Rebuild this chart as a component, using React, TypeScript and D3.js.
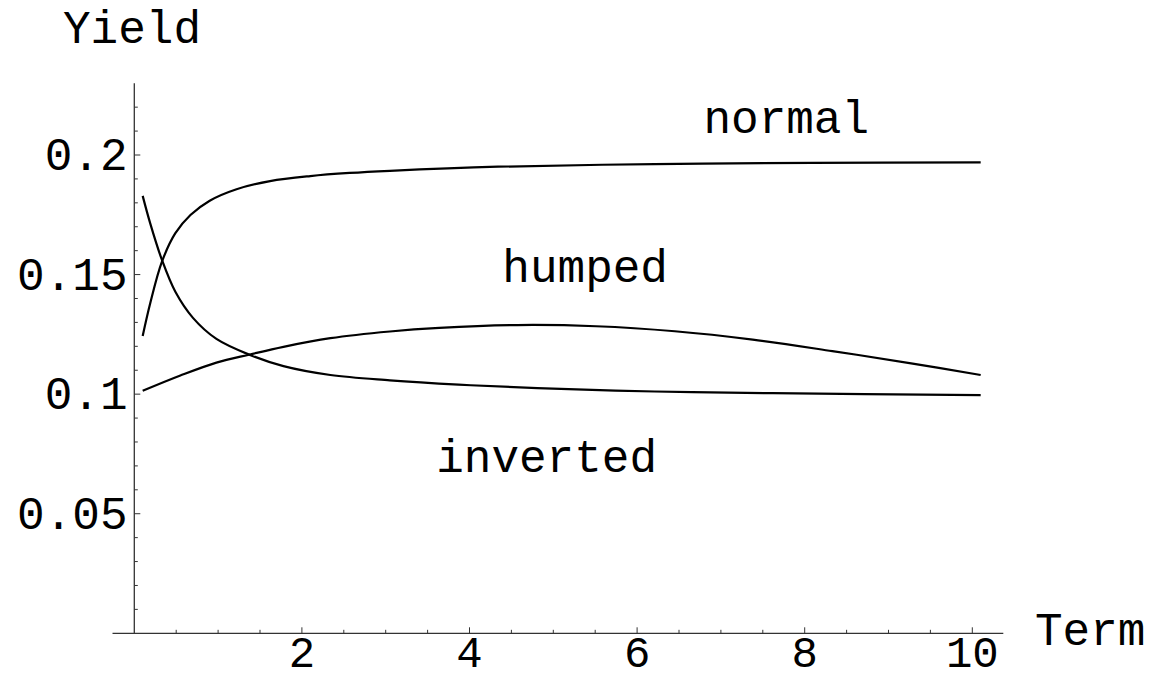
import React from "react";
import * as d3 from "d3";

// Yield curves: term (years) against yield
const normalTerms = [0.1, 0.19, 0.33, 0.49, 0.67, 0.9, 1.22, 1.62, 2.1, 2.57, 3.05, 4.34, 6.21, 8.09, 10.1];
const normalYields = [0.1243, 0.138, 0.1554, 0.1673, 0.1749, 0.1809, 0.1857, 0.1891, 0.1912, 0.1925, 0.1934, 0.1951, 0.1962, 0.1967, 0.1969];

const invertedTerms = [0.1, 0.19, 0.33, 0.49, 0.7, 0.98, 1.38, 1.78, 2.34, 3.05, 3.87, 4.81, 6.21, 7.62, 10.1];
const invertedYields = [0.1829, 0.1714, 0.1561, 0.1428, 0.1319, 0.1231, 0.1164, 0.1117, 0.108, 0.1058, 0.104, 0.1025, 0.1011, 0.1004, 0.0996];

const humpedTerms = [0.1, 0.55, 0.98, 1.38, 1.78, 2.34, 3.05, 3.64, 4.57, 5.51, 6.45, 7.38, 8.33, 9.27, 10.1];
const humpedYields = [0.1014, 0.1078, 0.1132, 0.1166, 0.1198, 0.1234, 0.1262, 0.1277, 0.1289, 0.1284, 0.1263, 0.1228, 0.118, 0.1129, 0.108];

const xMajorTicks = [2, 4, 6, 8, 10];
const yMajorTicks = [0.05, 0.1, 0.15, 0.2];
const yTickLabels = ["0.05", "0.1", "0.15", "0.2"];

const curveNames = ["normal", "humped", "inverted"];
const curveLabelTerms = [7.78, 5.38, 4.92];
const curveLabelYields = [0.2092, 0.1469, 0.0673];

const WIDTH = 1159;
const HEIGHT = 681;
const FONT = "'Liberation Mono', 'Courier New', Courier, monospace";

export default function App() {
  const x = d3.scaleLinear().domain([0, 10]).range([134.3, 972.3]);
  const y = d3.scaleLinear().domain([0, 0.2]).range([633.3, 155]);

  const line = d3
    .line<[number, number]>()
    .x((d) => x(d[0]))
    .y((d) => y(d[1]))
    .curve(d3.curveCatmullRom.alpha(0.5));

  const series = [
    normalTerms.map((t, i) => [t, normalYields[i]] as [number, number]),
    humpedTerms.map((t, i) => [t, humpedYields[i]] as [number, number]),
    invertedTerms.map((t, i) => [t, invertedYields[i]] as [number, number]),
  ];

  const xMinor = d3.range(0.5, 10.01, 0.5).filter((v) => !xMajorTicks.some((m) => Math.abs(m - v) < 1e-6));
  const yMinor = d3.range(0.01, 0.2251, 0.01).filter((v) => !yMajorTicks.some((m) => Math.abs(m - v) < 1e-6));

  const axisColor = "#333";

  return (
    <svg
      width={WIDTH}
      height={HEIGHT}
      style={{ position: "absolute", left: 0, top: 0, background: "#fff" }}
      fontFamily={FONT}
    >
      {/* axes */}
      <line x1={x(-0.26)} x2={x(10.37)} y1={y(0)} y2={y(0)} stroke={axisColor} strokeWidth={1.3} />
      <line x1={x(0)} x2={x(0)} y1={y(0)} y2={y(0.23)} stroke={axisColor} strokeWidth={1.3} />

      {/* x ticks */}
      {xMinor.map((v) => (
        <line key={"xm" + v} x1={x(v)} x2={x(v)} y1={y(0)} y2={y(0) - 3.5} stroke={axisColor} strokeWidth={1} />
      ))}
      {xMajorTicks.map((v) => (
        <g key={"xM" + v}>
          <line x1={x(v)} x2={x(v)} y1={y(0)} y2={y(0) - 6} stroke={axisColor} strokeWidth={1} />
          <text x={x(v)} y={667} textAnchor="middle" fontSize={44} fill="#000">
            {v}
          </text>
        </g>
      ))}

      {/* y ticks */}
      {yMinor.map((v) => (
        <line key={"ym" + v} x1={x(0)} x2={x(0) + 3.5} y1={y(v)} y2={y(v)} stroke={axisColor} strokeWidth={1} />
      ))}
      {yMajorTicks.map((v, i) => (
        <g key={"yM" + v}>
          <line x1={x(0)} x2={x(0) + 6} y1={y(v)} y2={y(v)} stroke={axisColor} strokeWidth={1} />
          <text x={127.5} y={y(v) + 15} textAnchor="end" fontSize={46} fill="#000">
            {yTickLabels[i]}
          </text>
        </g>
      ))}

      {/* axis titles */}
      <text x={63} y={43} fontSize={46} fill="#000">
        Yield
      </text>
      <text x={1035} y={645} fontSize={46} fill="#000">
        Term
      </text>

      {/* curves */}
      {series.map((s, i) => (
        <path key={curveNames[i]} d={line(s) || ""} fill="none" stroke="#000" strokeWidth={2.2} />
      ))}

      {/* curve labels */}
      {curveNames.map((name, i) => (
        <text
          key={"lbl" + name}
          x={x(curveLabelTerms[i])}
          y={y(curveLabelYields[i])}
          textAnchor="middle"
          fontSize={46}
          fill="#000"
        >
          {name}
        </text>
      ))}
    </svg>
  );
}
